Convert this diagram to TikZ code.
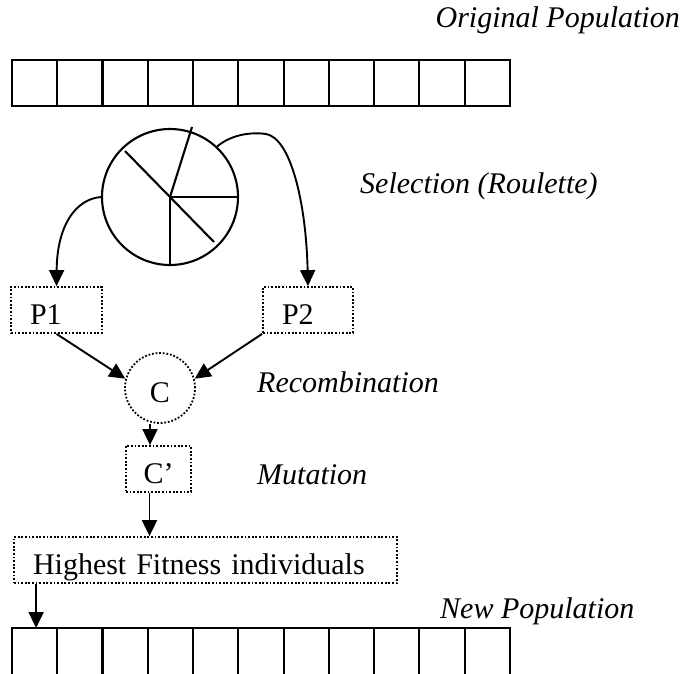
\documentclass[tikz,border=0pt]{standalone}
\usepackage{fontspec}
\setmainfont{Liberation Serif}
\usetikzlibrary{arrows.meta}
\begin{document}
\begin{tikzpicture}[x=1pt,y=-1pt,
  font=\fontsize{30}{36}\selectfont,
  thick line/.style={line width=2.1pt},
  arr/.style={line width=1.9pt,-{Triangle[length=16pt,width=15pt]}},
  dotline/.style={line width=1.8pt,dash pattern=on 1.8pt off 1.8pt},
  dotbox/.style={dotline,draw,minimum height=46pt,inner ysep=0pt,
                 text height=28pt,text depth=0pt,inner xsep=19pt,align=left},
  cell/.style={draw,thick line,minimum width=45.27pt,minimum height=46pt,inner sep=0pt},
  caption/.style={font=\fontsize{30}{36}\selectfont\itshape,inner sep=0pt,anchor=base west}
]
\useasboundingbox (0,0) rectangle (683,673);

% original population: a row of eleven cells
\foreach \i in {1,...,11}
  \node[cell] (o\i) at ({12+45.27*(\i-0.5)},83) {};
\node[caption,anchor=base east] (orig) at (680,27) {Original Population};

% roulette wheel
\node[draw,circle,thick line,minimum size=136pt,inner sep=0pt] (wheel) at (170,197) {};
\begin{scope}[shift={(wheel.center)},thick line]
  \draw (-45,-46) -- (44,45);
  \draw (0,0) -- (22,-70);
  \draw (0,0) -- (68,0);
  \draw (0,0) -- (0,68);
\end{scope}
\node[caption] (sel) at (360,193) {Selection (Roulette)};

% parents
\node[dotbox,text width=53pt] (p1) at (56.5,310) {P1};
\node[dotbox,text width=52pt] (p2) at (308,310) {P2};

\draw[arr] (wheel.west) .. controls (76,199) and (57,225) .. (p1.north);
\draw[arr] (wheel.47) .. controls (232,134) and (252,132) .. (266,134)
                      .. controls (290,138) and (306,200) .. (p2.north);

% recombination
\node[circle,dotline,draw,minimum size=70pt,inner sep=0pt,
      text height=28pt,text depth=0pt] (c) at (160,388) {C};
\draw[arr] (p1.south) -- (c.165);
\draw[arr] (p2.south west) -- (c.15);
\node[caption] (rec) at (257,392) {Recombination};

% mutation
\node[dotbox,minimum width=65pt,inner xsep=0pt,align=center] (cp) at (158.5,469) {C’};
\draw[arr] ([xshift=-10pt]c.south) -- ([xshift=-10pt]c.south |- cp.north);
\node[caption] (mut) at (257,484) {Mutation};

% survivors
\node[dotbox,text width=345pt] (hf) at (205.5,560) {Highest Fitness individuals};
\draw[arr] ([xshift=-9pt]cp.south) -- ([xshift=-9pt]cp.south |- hf.north);

% new population: open row of cells
\coordinate (nr) at (12,628);
\draw[thick line] (12,628) -- (510,628);
\foreach \i in {0,...,11}
  \draw[thick line] ({12+45.27*\i},627) -- ({12+45.27*\i},680);
\draw[arr] ([xshift=23pt]hf.south west) -- ([xshift=23pt]hf.south west |- nr);
\node[caption] (newp) at (440,618) {New Population};
\end{tikzpicture}
\end{document}
